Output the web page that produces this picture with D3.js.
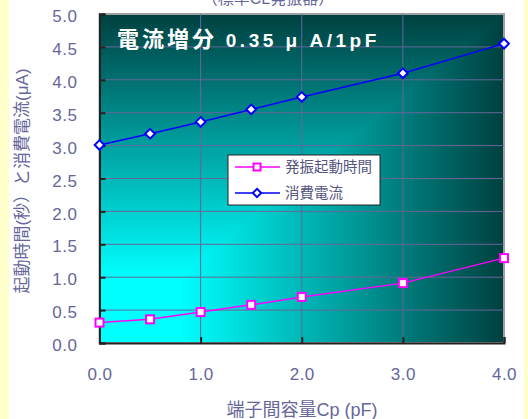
<!DOCTYPE html>
<html>
<head>
<meta charset="utf-8">
<script src="https://cdn.jsdelivr.net/npm/d3@7"></script>
<style>
  html, body { margin: 0; padding: 0; background: #ffffff; }
  svg { display: block; }
  text { font-family: "Liberation Sans", Arial, "Noto Sans CJK JP", sans-serif; }
</style>
</head>
<body>
<svg id="chart" width="528" height="419"></svg>
<script>
// Terminal capacitance (pF)
const capacitance = [0, 0.5, 1.0, 1.5, 2.0, 3.0, 4.0];
// Oscillation start-up time (s)
const startupTime = [0.31, 0.36, 0.47, 0.58, 0.70, 0.91, 1.29];
// Current consumption (μA)
const currentDraw = [3.01, 3.18, 3.36, 3.55, 3.74, 4.10, 4.55];
const seriesNames = ["発振起動時間", "消費電流"];
const xTicks = [0, 1, 2, 3, 4];
const yTicks = [0, 0.5, 1, 1.5, 2, 2.5, 3, 3.5, 4, 4.5, 5];

(function () {
const svg = d3.select("#chart");
const W = 528, H = 419;
const slate = "#66669a";

// side bands
svg.append("rect").attr("x", 0).attr("y", 0).attr("width", 9).attr("height", H).attr("fill", "#ffffcc");
svg.append("rect").attr("x", 524).attr("y", 0).attr("width", 4).attr("height", H).attr("fill", "#ffffcc");

const pLeft = 99.5, pRight = 504, pTop = 14, pBottom = 343;
const x = d3.scaleLinear().domain([0, 4]).range([pLeft, pRight]);
const y = d3.scaleLinear().domain([0, 5]).range([pBottom, pTop]);

// corner shading: horizontal ramp everywhere, vertical ramp over the upper-left triangle
const defs = svg.append("defs");
function ramp(id, x1, y1, x2, y2) {
  const g = defs.append("linearGradient").attr("id", id)
    .attr("gradientUnits", "userSpaceOnUse")
    .attr("x1", x1).attr("y1", y1).attr("x2", x2).attr("y2", y2);
  g.append("stop").attr("offset", 0).attr("stop-color", "#00ffff");
  g.append("stop").attr("offset", 0.2).attr("stop-color", "#00ffff");
  g.append("stop").attr("offset", 1).attr("stop-color", "#004040");
}
ramp("rampV", 0, pBottom, 0, pTop);
ramp("rampH", pLeft, 0, pRight, 0);
svg.append("rect")
  .attr("x", pLeft).attr("y", pTop).attr("width", pRight - pLeft).attr("height", pBottom - pTop)
  .attr("fill", "url(#rampH)");
svg.append("polygon")
  .attr("points", `${pLeft},${pBottom} ${pLeft},${pTop} ${pRight},${pTop}`)
  .attr("fill", "url(#rampV)");

// plot frame (top/right)
svg.append("rect").attr("x", pLeft).attr("y", pTop).attr("width", pRight - pLeft).attr("height", pBottom - pTop)
  .attr("fill", "none").attr("stroke", "#a0a0a0").attr("stroke-width", 2);

// grid
const grid = svg.append("g");
grid.selectAll("line.h").data(yTicks.filter(v => v > 0 && v < 5)).join("line").attr("class", "h")
  .attr("x1", pLeft).attr("x2", pRight).attr("y1", d => y(d)).attr("y2", d => y(d))
  .attr("stroke", "#666699").attr("stroke-width", 1);
grid.selectAll("line.v").data(xTicks.filter(v => v > 0 && v < 4)).join("line").attr("class", "v")
  .attr("y1", pTop).attr("y2", pBottom).attr("x1", d => x(d)).attr("x2", d => x(d))
  .attr("stroke", "#666699").attr("stroke-width", 1);

// axes
const yAxis = d3.axisLeft(y).tickValues(yTicks).tickSize(-6).tickPadding(22).tickFormat(d3.format(".1f"));
const gy = svg.append("g").attr("transform", `translate(${pLeft},0)`).call(yAxis);
const xAxis = d3.axisBottom(x).tickValues(xTicks).tickSize(-6).tickPadding(25).tickFormat(d3.format(".1f"));
const gx = svg.append("g").attr("transform", `translate(0,${pBottom})`).call(xAxis);
[gy, gx].forEach(g => {
  g.select(".domain").attr("stroke", "#222").attr("stroke-width", 2);
  g.selectAll(".tick line").attr("stroke", "#222").attr("stroke-width", 2);
  g.selectAll(".tick text").attr("fill", slate).attr("font-size", 17).attr("letter-spacing", 0.5)
    .attr("font-family", "'Liberation Sans', Arial, sans-serif");
});
gy.selectAll(".tick text").attr("dy", "0.45em");

// axis titles
svg.append("text").attr("transform", "translate(28,181) rotate(-90)")
  .attr("text-anchor", "middle").attr("fill", slate).attr("font-size", 17)
  .text("起動時間(秒）と消費電流(μA)");
svg.append("text").attr("x", 302).attr("y", 416)
  .attr("text-anchor", "middle").attr("fill", slate).attr("font-size", 18)
  .text("端子間容量Cp (pF)");

// title above the plot, partly outside the top edge
svg.append("text").attr("x", 268).attr("y", 4)
  .attr("text-anchor", "middle").attr("fill", slate).attr("font-size", 16)
  .text("（標準CL発振器）");

// series
const line = d3.line().x(d => x(d[0])).y(d => y(d[1]));
const timePts = capacitance.map((c, i) => [c, startupTime[i]]);
const currPts = capacitance.map((c, i) => [c, currentDraw[i]]);

svg.append("path").datum(timePts).attr("d", line).attr("fill", "none").attr("stroke", "#ff00ff").attr("stroke-width", 1.5);
svg.append("path").datum(currPts).attr("d", line).attr("fill", "none").attr("stroke", "#0000ff").attr("stroke-width", 1.5);

svg.selectAll("rect.sq").data(timePts).join("rect").attr("class", "sq")
  .attr("x", d => x(d[0]) - 4).attr("y", d => y(d[1]) - 4).attr("width", 8).attr("height", 8)
  .attr("fill", "#fff").attr("stroke", "#ff00ff").attr("stroke-width", 2);
const diamond = d3.symbol().type(d3.symbolDiamond2).size(60);
svg.selectAll("path.dm").data(currPts).join("path").attr("class", "dm")
  .attr("transform", d => `translate(${x(d[0])},${y(d[1])})`)
  .attr("d", diamond).attr("fill", "#fff").attr("stroke", "#0000ff").attr("stroke-width", 2);

// annotation
const note = svg.append("text").attr("x", 117).attr("y", 47).attr("fill", "#ffffff")
  .attr("font-weight", "bold");
note.append("tspan").attr("font-size", 22).attr("letter-spacing", 3)
  .attr("font-family", "'Noto Sans CJK JP', sans-serif").text("電流増分");
note.append("tspan").attr("font-size", 19).attr("letter-spacing", 3.5)
  .attr("font-family", "'Liberation Sans', Arial, sans-serif").text(" 0.35 μ A/1pF");

// legend
const lg = svg.append("g").attr("transform", "translate(228,155)");
lg.append("rect").attr("width", 152).attr("height", 50).attr("fill", "#fff").attr("stroke", "#222").attr("stroke-width", 1);
const colors = ["#ff00ff", "#0000ff"];
seriesNames.forEach((name, i) => {
  const ry = 12 + i * 26;
  lg.append("line").attr("x1", 7).attr("x2", 52).attr("y1", ry).attr("y2", ry).attr("stroke", colors[i]).attr("stroke-width", 1.5);
  if (i === 0) {
    lg.append("rect").attr("x", 25.5).attr("y", ry - 3.5).attr("width", 7).attr("height", 7)
      .attr("fill", "#fff").attr("stroke", colors[i]).attr("stroke-width", 2);
  } else {
    lg.append("path").attr("transform", `translate(29,${ry})`).attr("d", d3.symbol().type(d3.symbolDiamond2).size(45))
      .attr("fill", "#fff").attr("stroke", colors[i]).attr("stroke-width", 2);
  }
  lg.append("text").attr("x", 57).attr("y", ry + 5).attr("fill", "#555580").attr("font-size", 14.5)
    .attr("font-family", "'Noto Sans CJK JP', sans-serif").text(name);
});
})();
</script>
</body>
</html>
